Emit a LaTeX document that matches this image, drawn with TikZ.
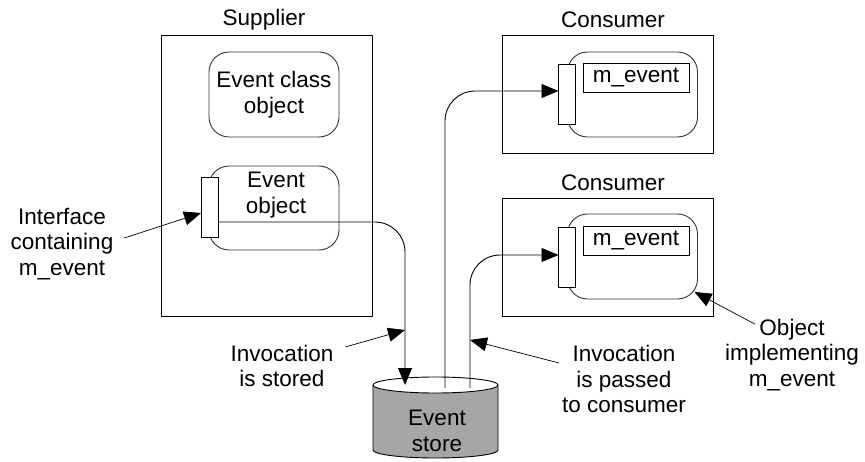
\documentclass[tikz,border=0pt]{standalone}
\usepackage{fontspec}
\setmainfont{Liberation Sans}
\usetikzlibrary{arrows.meta}

\begin{document}
\begin{tikzpicture}[x=1pt, y=-1pt,
        every node/.style={font=\fontsize{22.5}{25.5}\selectfont, align=center, inner sep=0pt, outer sep=0pt},
        boxn/.style={draw, line width=0.9pt, minimum width=211pt},
        objn/.style={draw=black!80, line width=0.9pt, rounded corners=20pt, minimum width=130pt, minimum height=85pt},
        ifacen/.style={draw, fill=white, line width=0.9pt, minimum width=17pt, minimum height=60pt},
        mevn/.style={draw, line width=0.9pt, minimum width=106pt, minimum height=29pt},
        conn/.style={draw, line width=0.9pt, rounded corners=30pt, -{Triangle[length=17pt, width=14pt]}},
        note/.style={draw, line width=0.7pt, -{Triangle[length=17pt, width=14pt]}},
    ]
    \useasboundingbox (0,0) rectangle (865,462);

    \node[boxn, minimum height=281pt](supplier) at (266.5,175.5) {};
    \node(suplbl) at (264,20) {Supplier};
    \node[objn](evclass) at (274,94.5) {Event class\\object};
    \node[objn, minimum height=84pt](evobj) at (274,208) {};
    \node(evobjtxt) at (276,195) {Event\\object};
    \node[ifacen](supiface) at (209.5,207) {};

    \node[boxn, minimum height=118pt](cons1) at (607.5,94) {};
    \node(cons1lbl) at (613,20) {Consumer};
    \node[objn](cobj1) at (632.5,94.5) {};
    \node[ifacen](ciface1) at (567,94) {};
    \node[mevn](mev1) at (636,77.5) {m\_event};

    \node[boxn, minimum height=118pt](cons2) at (607.5,257) {};
    \node(cons2lbl) at (613,183) {Consumer};
    \node[objn](cobj2) at (632.5,256.5) {};
    \node[ifacen](ciface2) at (567,257) {};
    \node[mevn](mev2) at (636,240.5) {m\_event};

    \fill[gray!70] (373,385) -- (373,450) arc[start angle=180, end angle=0, x radius=62.5, y radius=8] -- (498,385) -- cycle;
    \draw[line width=0.9pt] (373,385) -- (373,450) arc[start angle=180, end angle=0, x radius=62.5, y radius=8] -- (498,385);
    \draw[fill=white, line width=0.9pt] (435.5,385) ellipse[x radius=62.5, y radius=8];
    \node(store) at (437,431) {Event\\store};
    \coordinate(stin) at (405,385);
    \coordinate(stout1) at (445,388);
    \coordinate(stout2) at (470,388);

    \draw[conn] ([yshift=-15pt]supiface.east) -| (stin);
    \draw[conn] (stout1) |- ([yshift=3pt]ciface1.west);
    \draw[conn] (stout2) |- ([yshift=2pt]ciface2.west);

    \node(ifacetxt) at (62,244) {Interface\\containing\\m\_event};
    \node(storedtxt) at (282,366) {Invocation\\is stored};
    \node(passtxt) at (624,379) {Invocation\\is passed\\to consumer};
    \node(objtxt) at (792,355) {Object\\implementing\\m\_event};
    \coordinate(storedtip) at (405,330);
    \coordinate(passtip) at (470,340);

    \draw[note] ([shift={(11,-6)}]ifacetxt.east) -- ([yshift=-6pt]supiface.west);
    \draw[note] ([shift={(12,-19)}]storedtxt.east) -- (storedtip);
    \draw[note] ([shift={(-3,-16)}]passtxt.west) -- (passtip);
    \draw[note] ([shift={(-37,5)}]objtxt.north) -- ([shift={(-3,-7)}]cobj2.south east);
\end{tikzpicture}
\end{document}
